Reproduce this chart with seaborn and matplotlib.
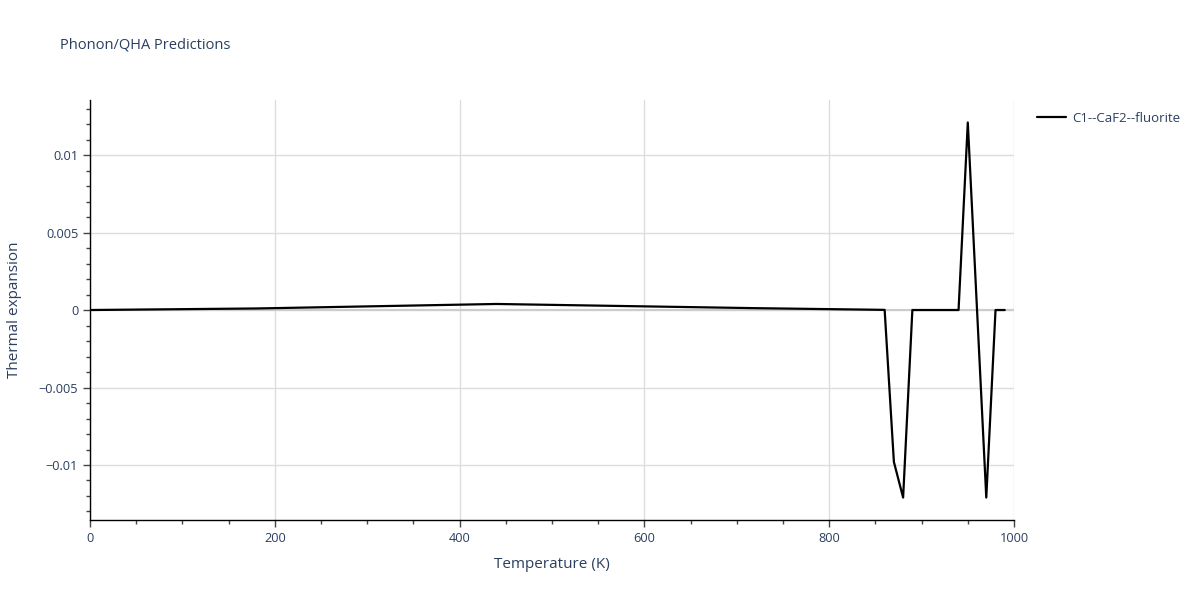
import pandas as pd
import seaborn as sns
import matplotlib.pyplot as plt
from matplotlib.ticker import MultipleLocator, FuncFormatter

# Values
temperature = [0, 180, 440, 720, 860, 870, 880, 890, 940, 950, 960, 970, 980, 990]
thermal_expansion = [0.0, 0.0001, 0.00039, 0.00012, 0.00001, -0.0098, -0.0121,
                     0.0, 0.0, 0.0121, 0.0, -0.0121, 0.0, 0.0]
series_name = "C1--CaF2--fluorite"

df = pd.DataFrame({"Temperature": temperature, "Thermal": thermal_expansion,
                   "structure": series_name})

sns.set_style("white")
plt.rcParams["font.family"] = ["Open Sans", "DejaVu Sans"]
text_color = "#2a3f5f"

fig = plt.figure(figsize=(12, 6), dpi=100)
ax = fig.add_axes([0.075, 0.1333, 0.77, 0.7])

sns.lineplot(data=df, x="Temperature", y="Thermal", hue="structure",
             palette=["black"], linewidth=1.6, ax=ax, zorder=3)

ax.set_xlim(0, 1000)
ax.set_ylim(-0.01355, 0.01355)

ax.xaxis.set_major_locator(MultipleLocator(200))
ax.xaxis.set_minor_locator(MultipleLocator(50))
ax.yaxis.set_major_locator(MultipleLocator(0.005))
ax.yaxis.set_minor_locator(MultipleLocator(0.001))


def fmt_y(v, pos):
    if abs(v) < 1e-12:
        return "0"
    s = f"{v:g}"
    return s.replace("-", "\u2212")


ax.yaxis.set_major_formatter(FuncFormatter(fmt_y))

ax.grid(True, which="major", color="#dddddd", linewidth=1, zorder=0)
ax.axhline(0, color="#cccccc", linewidth=1.5, zorder=1)

for side in ["top", "right"]:
    ax.spines[side].set_visible(False)
for side in ["left", "bottom"]:
    ax.spines[side].set_color("black")
    ax.spines[side].set_linewidth(1)

ax.tick_params(axis="both", which="major", direction="out", length=5, width=1,
               color="#444444", labelsize=9.2, labelcolor=text_color,
               left=True, bottom=True)
ax.tick_params(axis="both", which="minor", direction="out", length=3, width=1,
               color="#444444", left=True, bottom=True)

ax.set_xlabel("Temperature (K)", fontsize=11, color=text_color, labelpad=9)
ax.set_ylabel("Thermal expansion", fontsize=11, color=text_color, labelpad=12)

fig.text(0.05, 0.925, "Phonon/QHA Predictions", fontsize=10.5, color=text_color,
         va="center", ha="left")

leg = ax.legend(loc="upper left", bbox_to_anchor=(1.012, 1.0), frameon=False,
                fontsize=9.5, handlelength=2.2, handletextpad=0.5)
for t in leg.get_texts():
    t.set_color(text_color)

plt.savefig("out.png", dpi=100)
